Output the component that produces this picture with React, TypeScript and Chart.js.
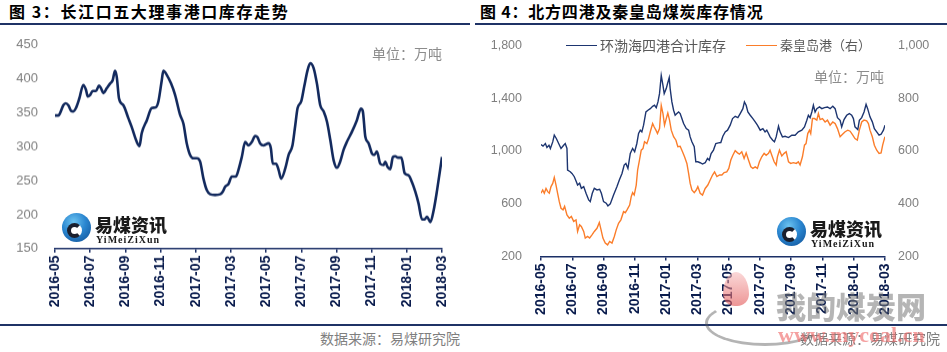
import React, { useEffect, useRef } from "react";
import { Chart, registerables } from "chart.js";
Chart.register(...registerables);

// ---------- data ----------
const xTickLabels = ["2016-05","2016-07","2016-09","2016-11","2017-01","2017-03","2017-05","2017-07","2017-09","2017-11","2018-01","2018-03"];

// months since 2016-05 (left chart: 长江口五大理事港口库存)
const leftMonths = [0,0.19,0.28,0.47,0.61,0.76,0.91,1.04,1.19,1.38,
1.61,1.76,1.86,1.99,2.14,2.33,2.50,2.62,2.75,2.94,
3.13,3.28,3.41,3.51,3.64,3.89,4.17,4.36,4.65,4.80,
4.93,5.22,5.50,5.73,5.88,6.07,6.16,6.35,6.60,6.83,
7.11,7.30,7.49,7.68,7.87,8.06,8.25,8.44,8.63,8.82,
9.10,9.39,9.54,9.67,9.86,10.05,10.28,10.43,10.62,10.81,
11.00,11.19,11.38,11.51,11.66,11.85,12.14,12.27,12.38,12.57,
12.71,12.86,13.09,13.28,13.50,13.65,13.79,14.00,14.17,14.36,
14.51,14.70,14.89,15.08,15.27,15.46,15.65,15.84,16.03,16.21,
16.40,16.59,16.88,17.16,17.39,17.50,17.64,17.83,18.02,18.15,
18.30,18.49,18.68,18.77,18.91,19.06,19.21,19.34,19.50,19.69,
19.88,20.10,20.29,20.48,20.67,20.86,21.01,21.15,21.34,21.53,
21.72,22.00];
const leftValues = [346,346,349,361,364,361,353,352,357,371,
391,384,374,376,382,382,390,386,379,386,
393,398,412,403,371,361,342,329,307,301,
320,339,357,358,367,398,412,406,393,376,
347,334,305,288,283,283,278,253,236,230,
229,230,234,241,245,256,256,266,285,307,
302,307,316,314,305,302,305,298,275,275,
266,253,268,288,302,330,357,367,389,413,
423,416,393,361,352,337,310,280,269,278,
295,307,322,339,356,352,315,305,290,288,
293,275,273,278,270,267,285,286,284,284,
261,258,248,234,216,193,193,197,189,207,
236,285];

// right chart: 环渤海四港合计库存 (left axis)
const bohaiMonths = [0,0.13,0.28,0.38,0.51,0.60,0.75,0.85,0.98,1.13,
1.28,1.45,1.55,1.66,1.70,1.87,1.98,2.13,2.26,2.34,
2.47,2.58,2.73,2.88,3.05,3.15,3.28,3.41,3.58,3.75,
3.86,4.00,4.17,4.28,4.43,4.64,4.86,5.01,5.18,5.32,
5.43,5.56,5.71,5.86,5.99,6.13,6.24,6.35,6.45,6.56,
6.71,6.84,6.99,7.14,7.26,7.37,7.48,7.58,7.69,7.80,
7.88,8.01,8.09,8.20,8.26,8.37,8.48,8.58,8.69,8.80,
8.90,9.01,9.12,9.29,9.44,9.54,9.65,9.80,9.90,10.03,
10.18,10.33,10.50,10.65,10.76,10.88,11.03,11.18,11.35,11.50,
11.63,11.78,11.93,12.10,12.25,12.42,12.59,12.74,12.91,13.01,
13.12,13.23,13.38,13.55,13.70,13.84,14.02,14.19,14.33,14.44,
14.55,14.65,14.82,14.93,15.04,15.19,15.29,15.44,15.61,15.83,
16.04,16.25,16.46,16.68,16.85,17.00,17.10,17.21,17.32,17.42,
17.53,17.64,17.81,17.96,18.13,18.32,18.49,18.66,18.81,18.96,
19.13,19.23,19.38,19.55,19.72,19.87,19.98,20.08,20.26,20.36,
20.51,20.66,20.79,20.89,21.04,21.19,21.32,21.47,21.62,21.75,
21.90,22.00];
const bohaiValues = [1049,1037,1057,1027,1044,1019,1069,1120,1095,1057,
1019,1044,1057,1019,855,843,830,805,767,742,
755,717,730,679,629,616,679,717,705,710,
679,616,604,583,599,667,730,780,830,893,
906,868,981,1019,994,1057,1133,1158,1145,1196,
1296,1309,1321,1339,1347,1329,1372,1435,1573,1498,
1435,1473,1510,1556,1473,1372,1309,1271,1284,1296,
1284,1246,1208,1170,1158,1107,1070,1032,918,918,
911,901,911,944,931,981,1007,1057,1062,1064,
1112,1145,1158,1196,1246,1263,1253,1284,1321,1372,
1347,1296,1271,1246,1221,1196,1158,1170,1145,1158,
1133,1107,1082,1070,1107,1188,1145,1107,1112,1102,
1120,1120,1145,1158,1183,1233,1271,1253,1296,1347,
1296,1321,1334,1321,1329,1334,1321,1339,1321,1253,
1233,1183,1238,1271,1284,1271,1246,1183,1163,1233,
1253,1296,1354,1321,1259,1221,1170,1145,1120,1127,
1158,1196];

// right chart: 秦皇岛港 (right axis)
const qhdMonths = [0,0.11,0.21,0.32,0.43,0.53,0.64,0.75,0.85,0.96,
1.06,1.17,1.28,1.41,1.51,1.66,1.81,1.94,2.09,2.24,
2.34,2.47,2.58,2.73,2.83,2.98,3.11,3.26,3.41,3.58,
3.73,3.83,3.96,4.11,4.26,4.39,4.54,4.69,4.81,4.96,
5.11,5.28,5.39,5.50,5.67,5.77,5.86,5.96,6.09,6.18,
6.30,6.41,6.52,6.62,6.77,6.88,6.99,7.14,7.24,7.35,
7.45,7.58,7.69,7.80,7.90,8.01,8.11,8.22,8.33,8.48,
8.63,8.75,8.90,9.05,9.18,9.33,9.44,9.54,9.65,9.80,
9.93,10.03,10.18,10.33,10.50,10.67,10.82,10.97,11.10,11.25,
11.42,11.57,11.71,11.88,12.01,12.14,12.27,12.42,12.57,12.69,
12.84,12.99,13.12,13.27,13.42,13.55,13.70,13.84,13.97,14.12,
14.27,14.40,14.55,14.65,14.76,14.91,15.04,15.12,15.25,15.40,
15.55,15.68,15.83,15.97,16.14,16.32,16.46,16.57,16.72,16.85,
16.95,17.06,17.17,17.25,17.36,17.49,17.64,17.74,17.85,18.00,
18.17,18.32,18.49,18.66,18.81,18.96,19.13,19.30,19.45,19.62,
19.77,19.94,20.08,20.23,20.36,20.51,20.66,20.83,20.94,21.04,
21.19,21.32,21.47,21.62,21.75,21.85,21.96,22.00];
const qhdValues = [440,452,440,458,446,440,465,477,500,471,
440,408,383,377,390,358,345,352,333,339,
295,320,314,295,270,276,270,282,295,307,
329,304,270,251,244,257,251,276,301,326,
339,370,366,377,395,427,442,433,471,528,
566,603,609,635,628,647,673,704,691,679,
666,685,773,742,698,723,744,717,679,654,
641,616,618,597,578,553,515,477,452,442,
452,465,440,433,458,471,490,509,521,503,
509,509,518,521,534,566,584,601,593,588,
597,572,593,566,540,534,540,534,559,578,
591,584,591,603,584,559,547,578,603,581,
591,597,559,553,556,553,559,547,578,622,
628,666,679,666,723,723,717,742,719,723,
710,717,698,710,704,685,654,664,673,679,
675,660,647,641,679,710,717,714,704,679,
654,622,603,591,593,622,647,654];

// ---------- styles ----------
const NAVY = "#132a5e";
const NAVY2 = "#1d3570";
const ORANGE = "#fb7d2a";
const AXIS = "#1b2f66";
const XLABEL = "#0b1d4e";
const GRAY = "#7f7f7f";
const CJK = '"Noto Sans CJK SC", "Noto Sans", sans-serif';
const LAT = '"Liberation Sans", Arial, sans-serif';

function xScale(height: number) {
  return {
    type: "linear" as const,
    min: 0,
    max: 22,
    ticks: {
      stepSize: 2,
      autoSkip: false,
      maxRotation: 90,
      minRotation: 90,
      padding: 3,
      color: XLABEL,
      font: { family: LAT, size: 14, weight: "bold" as const },
      callback: (v: any) => xTickLabels[Math.round(Number(v) / 2)] ?? "",
    },
    grid: { display: true, drawOnChartArea: false, drawTicks: true, tickLength: 4, color: AXIS, lineWidth: 1.5 },
    border: { display: true, color: AXIS, width: 1.5 },
    afterFit: (s: any) => { s.height = height; },
  };
}

// plotTop: wanted page y of the plot area's top; canvas bottom stays at top+height
function CanvasChart({ config, left, top, width, height, plotTop }: any) {
  const ref = useRef<HTMLCanvasElement>(null);
  useEffect(() => {
    const canvas = ref.current!;
    const c = new Chart(canvas, config);
    const diff = (top + c.chartArea.top) - plotTop;
    if (Math.abs(diff) > 0.2) {
      canvas.style.top = (top - diff) + "px";
      c.resize(width, height + diff);
      c.update();
    }
    return () => c.destroy();
  }, []);
  return (
    <canvas
      ref={ref}
      width={width}
      height={height}
      style={{ position: "absolute", left, top, width, height }}
    />
  );
}

const yGrid = { display: false, drawTicks: false };

const leftConfig: any = {
  type: "line",
  data: {
    datasets: [{
      data: leftMonths.map((m, i) => ({ x: m, y: leftValues[i] })),
      borderColor: NAVY,
      borderWidth: 2.6,
      pointRadius: 0,
      cubicInterpolationMode: "monotone",
      fill: false,
    }],
  },
  options: {
    animation: false,
    responsive: false,
    maintainAspectRatio: false,
    devicePixelRatio: 1,
    layout: { padding: { left: 0, right: 28, top: 15, bottom: 0 } },
    plugins: { legend: { display: false }, tooltip: { enabled: false } },
    scales: {
      x: xScale(72),
      y: {
        min: 150, max: 450,
        ticks: { stepSize: 50, padding: 17, color: GRAY, font: { family: LAT, size: 13 } },
        grid: yGrid,
        border: { display: false },
        afterFit: (s: any) => { s.width = 55; },
      },
    },
  },
};

const rightConfig: any = {
  type: "line",
  data: {
    datasets: [
      {
        data: bohaiMonths.map((m, i) => ({ x: m, y: bohaiValues[i] })),
        borderColor: NAVY2,
        borderWidth: 1.4,
        pointRadius: 0,
        tension: 0,
        yAxisID: "y",
      },
      {
        data: qhdMonths.map((m, i) => ({ x: m, y: qhdValues[i] })),
        borderColor: ORANGE,
        borderWidth: 1.4,
        pointRadius: 0,
        tension: 0,
        yAxisID: "y1",
      },
    ],
  },
  options: {
    animation: false,
    responsive: false,
    maintainAspectRatio: false,
    devicePixelRatio: 1,
    layout: { padding: { left: 0, right: 0, top: 15, bottom: 0 } },
    plugins: { legend: { display: false }, tooltip: { enabled: false } },
    scales: {
      x: xScale(64),
      y: {
        position: "left",
        min: 200, max: 1800,
        ticks: { stepSize: 400, padding: 19, color: GRAY, font: { family: LAT, size: 12.5 },
          callback: (v: any) => Number(v).toLocaleString("en-US") },
        grid: yGrid,
        border: { display: false },
        afterFit: (s: any) => { s.width = 71; },
      },
      y1: {
        position: "right",
        min: 200, max: 1000,
        ticks: { stepSize: 200, padding: 13, color: GRAY, font: { family: LAT, size: 12.5 },
          callback: (v: any) => Number(v).toLocaleString("en-US") },
        grid: yGrid,
        border: { display: false },
        afterFit: (s: any) => { s.width = 62; },
      },
    },
  },
};

function Logo({ left, top }: { left: number; top: number }) {
  return (
    <div style={{ position: "absolute", left, top, width: 110, height: 32 }}>
      <div style={{
        position: "absolute", left: 0, top: 0, width: 29, height: 29, borderRadius: "50%",
        background: "radial-gradient(circle at 40% 30%, #6cc3f0 0%, #2a86d0 45%, #0f4d92 100%)",
      }} />
      <div style={{
        position: "absolute", left: 5, top: 10, width: 15, height: 15, borderRadius: "50%",
        border: "4px solid #1a1f2e", borderRightColor: "transparent", boxSizing: "border-box",
        background: "#ffffff",
      }} />
      <div style={{
        position: "absolute", left: 33, top: 1, fontFamily: CJK, fontWeight: 900, fontSize: 18,
        lineHeight: "20px", color: "#1a1a1a", whiteSpace: "nowrap",
      }}>易煤资讯</div>
      <div style={{
        position: "absolute", left: 34, top: 21, fontFamily: '"Liberation Serif", serif', fontWeight: 700,
        fontSize: 10, lineHeight: "11px", letterSpacing: 1, color: "#1a1a1a", whiteSpace: "nowrap",
      }}>YiMeiZiXun</div>
    </div>
  );
}

const abs = (o: any) => ({ position: "absolute" as const, whiteSpace: "nowrap" as const, ...o });

export default function App() {
  return (
    <div style={{ position: "absolute", left: 0, top: 0, width: 947, height: 352, background: "#fff", overflow: "hidden" }}>
      {/* titles */}
      <div style={abs({ left: 9, top: 2, fontFamily: CJK, fontWeight: 700, fontSize: 16, lineHeight: "18px", letterSpacing: 1.6, color: "#000" })}>
        图 3：长江口五大理事港口库存走势
      </div>
      <div style={abs({ left: 480, top: 2, fontFamily: CJK, fontWeight: 700, fontSize: 16, lineHeight: "18px", letterSpacing: 0.8, color: "#000" })}>
        图 4：北方四港及秦皇岛煤炭库存情况
      </div>
      <div style={abs({ left: 0, top: 23, width: 470, height: 1.5, background: "#1f3366" })} />
      <div style={abs({ left: 475, top: 23, width: 472, height: 1.5, background: "#1f3366" })} />
      <div style={abs({ left: 0, top: 324, width: 947, height: 1.5, background: "#1f3366" })} />

      {/* charts */}
      <CanvasChart config={leftConfig} left={0} top={30} width={470} height={290} plotTop={45} />
      <CanvasChart config={rightConfig} left={470} top={30} width={477} height={290} plotTop={45} />

      {/* unit labels */}
      <div style={abs({ left: 372, top: 44, fontFamily: CJK, fontSize: 14, lineHeight: "18px", color: "#8c8c8c" })}>单位：万吨</div>
      <div style={abs({ left: 814, top: 67, fontFamily: CJK, fontSize: 14, lineHeight: "18px", color: "#8c8c8c" })}>单位：万吨</div>

      {/* legend of right chart */}
      <div style={abs({ left: 566, top: 44.5, width: 31, height: 1.5, background: NAVY2 })} />
      <div style={abs({ left: 600, top: 36, fontFamily: CJK, fontSize: 14, lineHeight: "18px", color: "#595959" })}>环渤海四港合计库存</div>
      <div style={abs({ left: 746, top: 44.5, width: 31, height: 1.5, background: ORANGE })} />
      <div style={abs({ left: 780, top: 36, fontFamily: CJK, fontSize: 13, lineHeight: "18px", color: "#595959" })}>秦皇岛港（右）</div>

      {/* logos */}
      <Logo left={62} top={213} />
      <Logo left={777} top={217} />

      {/* source */}
      <div style={abs({ left: 320, top: 329, fontFamily: CJK, fontSize: 14, lineHeight: "18px", color: GRAY })}>数据来源：易煤研究院</div>
      <div style={abs({ left: 800, top: 329, fontFamily: CJK, fontSize: 14, lineHeight: "18px", color: GRAY })}>数据来源：易煤研究院</div>

      {/* watermark */}
      <div style={abs({ left: 705, top: 300, width: 120, height: 46, borderRadius: "50%", boxSizing: "border-box",
        border: "3px solid rgba(90,90,90,0.45)", borderTopColor: "transparent", borderRightColor: "transparent" })} />
      <div style={abs({ left: 723, top: 272, width: 26, height: 34, borderRadius: "50% 50% 45% 45% / 65% 65% 35% 35%",
        background: "linear-gradient(180deg, rgba(248,190,190,0.6), rgba(225,80,80,0.6))" })} />
      <div style={abs({ left: 776, top: 288, fontFamily: CJK, fontWeight: 900, fontSize: 30, lineHeight: "34px", color: "rgba(120,120,120,0.55)" })}>我的煤炭网</div>
      <div style={abs({ left: 778, top: 324, fontFamily: '"Liberation Serif", serif', fontWeight: 700, fontSize: 22, lineHeight: "22px", color: "rgba(240,110,110,0.65)" })}>www.mycoal.cn</div>
    </div>
  );
}
